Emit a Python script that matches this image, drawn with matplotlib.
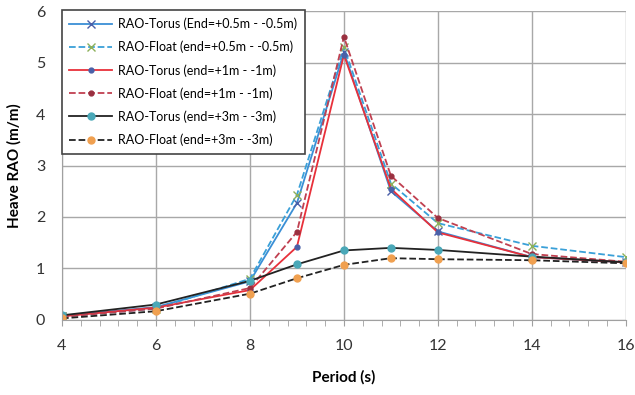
import matplotlib
matplotlib.use("Agg")
import matplotlib.pyplot as plt
import numpy as np

plt.rcParams['font.family'] = ['Lato', 'DejaVu Sans']

period = [4, 6, 8, 9, 10, 11, 12, 14, 16]
torus_05 = [0.08, 0.25, 0.75, 2.27, 5.20, 2.50, 1.72, 1.22, 1.12]
float_05 = [0.07, 0.22, 0.80, 2.43, 5.30, 2.65, 1.88, 1.44, 1.22]
torus_1 = [0.07, 0.24, 0.58, 1.42, 5.15, 2.55, 1.70, 1.22, 1.12]
float_1 = [0.06, 0.22, 0.62, 1.71, 5.50, 2.80, 1.98, 1.28, 1.13]
torus_3 = [0.09, 0.30, 0.76, 1.08, 1.35, 1.40, 1.36, 1.23, 1.12]
float_3 = [0.03, 0.17, 0.51, 0.81, 1.07, 1.20, 1.18, 1.16, 1.10]

labels = [
    "RAO-Torus (End=+0.5m - -0.5m)",
    "RAO-Float (end=+0.5m - -0.5m)",
    "RAO-Torus (end=+1m - -1m)",
    "RAO-Float (end=+1m - -1m)",
    "RAO-Torus (end=+3m - -3m)",
    "RAO-Float (end=+3m - -3m)",
]

fig = plt.figure(figsize=(6.35, 3.95), dpi=100)
ax = fig.add_axes([0.0976, 0.19, 0.888, 0.782])

ax.plot(period, torus_05, '-', color='#3a8fd6', lw=1.3, marker='x', ms=6,
        mec='#4a5fa8', mfc='#4a5fa8', label=labels[0])
ax.plot(period, float_05, '--', color='#3aa0d8', lw=1.3, marker='x', ms=6,
        mec='#8cb05a', mfc='#8cb05a', label=labels[1])
ax.plot(period, torus_1, '-', color='#e8303a', lw=1.3, marker='o', ms=3.5,
        mec='#4a60a8', mfc='#4a60a8', label=labels[2])
ax.plot(period, float_1, '--', color='#c04050', lw=1.3, marker='o', ms=3.5,
        mec='#9a3040', mfc='#9a3040', label=labels[3])
ax.plot(period, torus_3, '-', color='#222222', lw=1.3, marker='o', ms=5,
        mec='#4aa8b8', mfc='#4aa8b8', label=labels[4])
ax.plot(period, float_3, '--', color='#222222', lw=1.3, marker='o', ms=5,
        mec='#f0a050', mfc='#f0a050', label=labels[5])

ax.set_xlim(4, 16)
ax.set_ylim(0, 6)
ax.set_xticks(np.arange(4, 17, 2))
ax.set_yticks(np.arange(0, 7, 1))
ax.set_xticks(np.arange(4, 16.01, 0.4), minor=True)
ax.grid(True, which='major', color='#a8a8a8', lw=1.0)
ax.set_axisbelow(True)
for s in ['top', 'right']:
    ax.spines[s].set_visible(False)
for s in ['left', 'bottom']:
    ax.spines[s].set_color('#a0a0a0')
ax.tick_params(axis='y', which='major', labelsize=11.5, length=0, pad=12, colors='#333333')
ax.tick_params(axis='x', which='major', labelsize=11.5, length=4, pad=10,
               colors='#333333', color='#a0a0a0')
ax.tick_params(axis='x', which='minor', length=4, color='#a0a0a0', direction='out')

ax.set_xlabel("Period (s)", fontsize=11, fontweight='bold', labelpad=12)
ax.set_ylabel("Heave RAO (m/m)", fontsize=11, fontweight='bold', labelpad=10)

leg = ax.legend(loc='upper left', bbox_to_anchor=(0.0, 1.003), borderaxespad=0,
                fancybox=False, framealpha=1, edgecolor='#444444', fontsize=9,
                handlelength=3.4, handletextpad=0.5, labelspacing=0.85, borderpad=0.6)
leg.get_frame().set_linewidth(1.2)

fig.savefig("out.png", dpi=100)
